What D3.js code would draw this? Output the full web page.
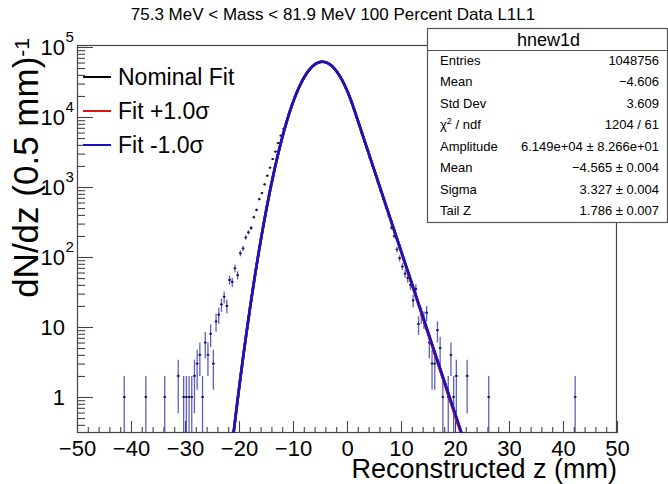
<!DOCTYPE html>
<html>
<head>
<meta charset="utf-8">
<script src="https://cdn.jsdelivr.net/npm/d3@7"></script>
<style>
  html, body { margin: 0; padding: 0; background: #fff; }
  svg { display: block; font-family: "Liberation Sans", Arial, Helvetica, sans-serif; }
</style>
</head>
<body>
<svg id="chart" width="668" height="484"></svg>
<script>
// Reconstructed z histogram, 0.5 mm bins; only non-empty bins are listed (bin centre, entries)
const binZ = [
  -41.25, -37.25, -33.75, -31.25, -30.25, -29.75, -29.25, -28.75, -28.25, -27.75,
  -27.25, -26.75, -26.25, -25.75, -25.25, -24.75, -24.25, -23.75, -23.25, -22.75,
  -22.25, -21.75, -21.25, -20.75, -20.25, -19.75, -19.25, -18.75, -18.25, -17.75,
  -17.25, -16.75, -16.25, -15.75, -15.25, -14.75, -14.25, -13.75, -13.25, -12.75,
  -12.25, -11.75, -11.25, -10.75,
  -10.25, -9.75, -9.25, -8.75, -8.25, -7.75, -7.25, -6.75, -6.25, -5.75,
  -5.25, -4.75, -4.25, -3.75, -3.25, -2.75, -2.25, -1.75, -1.25, -0.75,
  -0.25, 0.25, 0.75, 1.25, 1.75, 2.25, 2.75, 3.25, 3.75, 4.25,
  4.75, 5.25, 5.75, 6.25, 6.75, 7.25, 7.75,
  8.25, 8.75, 9.25, 9.75, 10.25, 10.75, 11.25, 11.75, 12.25, 12.75,
  13.25, 13.75, 14.25, 14.75, 15.25, 15.75, 16.25, 16.75, 17.25, 17.75,
  18.75, 19.25, 19.75, 20.25, 22.25, 26.25, 42.25
];
const binCounts = [
  1, 1, 1, 2, 1, 1, 1, 1, 2, 3,
  4, 1, 6, 4, 8, 3, 12, 15, 21, 27,
  20, 47, 44, 69, 55, 113, 133, 190, 225, 260,
  370, 470, 670, 820, 1090, 1450, 1890, 2510, 3200, 4230,
  5410, 6770, 8550, 10900,
  14600, 18500, 23000, 27900, 33200, 38700, 44100, 49300, 53800, 57500,
  60100, 61300, 61100, 59600, 56800, 53100, 48300, 43000, 37300, 31700,
  26300, 21400, 16900, 13100, 10000, 7700, 5850, 4480, 3400, 2600,
  1980, 1510, 1150, 880, 670, 505, 385,
  262, 200, 128, 96, 73, 58, 50, 40, 24, 35,
  11, 15, 13, 16, 6, 3, 3, 9, 5, 1,
  1, 4, 1, 2, 2, 1, 1
];
const binWidth = 0.5;

// Fit result: Gaussian core with an exponential tail on the high-z side
const fitParamNames  = ["Amplitude", "Mean", "Sigma", "Tail Z"];
const fitParamValues = [61490, -4.565, 3.327, 1.786];
const fitParamErrors = [82.66, 0.004, 0.004, 0.007];

// Fit variants: tail parameter shifted by the given number of standard errors
const fitLabels = ["Nominal Fit", "Fit +1.0\u03C3", "Fit -1.0\u03C3"];
const fitShifts = [0, 1, -1];

// Statistics box
const histName = "hnew1d";
const statNames = ["Entries", "Mean", "Std Dev"];
const statValues = ["1048756", "\u22124.606", "3.609"];
const chi2 = 1204, ndf = 61;

// Axis ticks
const xMajorTicks = [-50, -40, -30, -20, -10, 0, 10, 20, 30, 40, 50];
const yMajorTicks = [1, 10, 100, 1000, 10000, 100000];
const yTickBase = ["1", "10", "10", "10", "10", "10"];
const yTickExp  = ["", "", "2", "3", "4", "5"];

const titleText = "75.3 MeV < Mass < 81.9 MeV 100 Percent Data L1L1";
const xTitle = "Reconstructed z (mm)";
const yTitle = "dN/dz (0.5 mm)";
const yTitleExp = "-1";

// ---------------------------------------------------------------
const svg = d3.select("#chart");
const frame = { left: 77, right: 617, top: 45, bottom: 433 };
const x = d3.scaleLinear().domain([-50, 50]).range([frame.left, frame.right]);
const y = d3.scaleLog().domain([0.306, 1.068e5]).range([frame.bottom, frame.top]);
const axisColor = "#444";
const fitColors = ["#000000", "#e01010", "#1a12c6"];

svg.append("defs").append("clipPath").attr("id", "plotClip")
  .append("rect")
  .attr("x", frame.left).attr("y", frame.top)
  .attr("width", frame.right - frame.left).attr("height", frame.bottom - frame.top);

// Title
svg.append("text")
  .attr("x", 333).attr("y", 20)
  .attr("text-anchor", "middle")
  .style("font-size", "17px")
  .text(titleText);

// Frame
svg.append("rect")
  .attr("x", frame.left + 0.5).attr("y", frame.top + 0.5)
  .attr("width", frame.right - frame.left - 1).attr("height", frame.bottom - frame.top - 1)
  .attr("fill", "none").attr("stroke", axisColor).attr("stroke-width", 1.2);

// X axis: majors every 10, minors every 2
const fmtTick = v => (v < 0 ? "\u2212" + Math.abs(v) : String(v));
const xAxisG = svg.append("g").attr("transform", `translate(0,${frame.bottom})`)
  .call(d3.axisBottom(x).tickValues(xMajorTicks).tickSize(-12).tickPadding(7).tickFormat(fmtTick));
const xMinor = d3.range(-50, 50.001, 2).filter(v => Math.abs(v % 10) > 1e-9);
const xMinorG = svg.append("g").attr("transform", `translate(0,${frame.bottom})`)
  .call(d3.axisBottom(x).tickValues(xMinor).tickSize(-6).tickFormat(""));

// Y axis: decades with 2..9 subdivisions
const yMinor = [];
for (let e = -1; e <= 5; e++) {
  for (let k = 2; k <= 9; k++) {
    const v = k * Math.pow(10, e);
    if (v >= y.domain()[0] && v <= y.domain()[1]) yMinor.push(v);
  }
}
const yAxisG = svg.append("g").attr("transform", `translate(${frame.left},0)`)
  .call(d3.axisLeft(y).tickValues(yMajorTicks).tickSize(-16).tickFormat(""));
const yMinorG = svg.append("g").attr("transform", `translate(${frame.left},0)`)
  .call(d3.axisLeft(y).tickValues(yMinor).tickSize(-8).tickFormat(""));

[xAxisG, xMinorG, yAxisG, yMinorG].forEach(g => {
  g.select(".domain").remove();
  g.selectAll(".tick line").attr("stroke", axisColor).attr("stroke-width", 1.1);
  g.selectAll("text").attr("fill", "#000").style("font-size", "22px")
    .style("font-family", "\"Liberation Sans\", Arial, sans-serif");
});

// Y tick labels: mantissa right-aligned, exponent hanging to its right
const yLabels = svg.append("g");
const yLabelEdge = 65;
yMajorTicks.forEach((v, i) => {
  yLabels.append("text")
    .attr("x", yLabelEdge).attr("y", y(v)).attr("dy", "0.36em")
    .attr("text-anchor", "end")
    .style("font-size", "22px")
    .text(yTickBase[i]);
  if (yTickExp[i]) {
    yLabels.append("text")
      .attr("x", yLabelEdge + 0.5).attr("y", y(v) - 5)
      .style("font-size", "15px")
      .text(yTickExp[i]);
  }
});

// Axis titles
svg.append("text")
  .attr("x", frame.right).attr("y", 477.5)
  .attr("text-anchor", "end")
  .style("font-size", "27px")
  .text(xTitle);

const yt = svg.append("text")
  .attr("transform", "translate(37.5,38) rotate(-90)")
  .attr("text-anchor", "end")
  .style("font-size", "35px");
yt.append("tspan").text(yTitle);
yt.append("tspan").attr("dy", "-0.42em").style("font-size", "21px").text(yTitleExp);

// Data points with Poisson error bars
const plot = svg.append("g").attr("clip-path", "url(#plotClip)");
const bins = binZ.map((z, i) => ({ z, n: binCounts[i] }));
const yClamp = v => (v > y.domain()[0] ? y(v) : frame.bottom + 2);

const dataG = plot.append("g");
dataG.selectAll("line.err")
  .data(bins).join("line").attr("class", "err")
  .attr("x1", d => x(d.z)).attr("x2", d => x(d.z))
  .attr("y1", d => yClamp(d.n + Math.sqrt(d.n)))
  .attr("y2", d => yClamp(d.n - Math.sqrt(d.n)))
  .attr("stroke", "#3a38a6").attr("stroke-opacity", 0.8).attr("stroke-width", 1.3);
dataG.selectAll("line.xerr")
  .data(bins).join("line").attr("class", "xerr")
  .attr("x1", d => x(d.z - binWidth / 2)).attr("x2", d => x(d.z + binWidth / 2))
  .attr("y1", d => y(d.n)).attr("y2", d => y(d.n))
  .attr("stroke", "#1c1a7a").attr("stroke-width", 1.2);
dataG.selectAll("circle")
  .data(bins).join("circle")
  .attr("cx", d => x(d.z)).attr("cy", d => y(d.n)).attr("r", 1.1)
  .attr("fill", "#14126a");

// Fit curves
const [amp, mu, sig, tail] = fitParamValues;
function fitValue(z, tailZ) {
  const t = (z - mu) / sig;
  if (t <= tailZ) return amp * Math.exp(-0.5 * t * t);
  return amp * Math.exp(0.5 * tailZ * tailZ - tailZ * t);
}
const zs = d3.range(-50, 50.0001, 0.05);
const floor = y.domain()[0] * 0.3;
const line = d3.line().x(d => x(d[0])).y(d => y(Math.max(d[1], floor)));
fitShifts.forEach((s, i) => {
  const tz = tail + s * fitParamErrors[3];
  plot.append("path")
    .datum(zs.map(z => [z, fitValue(z, tz)]))
    .attr("d", line)
    .attr("fill", "none")
    .attr("stroke", fitColors[i])
    .attr("stroke-width", 2.6)
    .attr("stroke-linejoin", "round");
});

// Legend
const legendY = [77, 111, 145];
fitLabels.forEach((lab, i) => {
  svg.append("line")
    .attr("x1", 83).attr("x2", 111).attr("y1", legendY[i]).attr("y2", legendY[i])
    .attr("stroke", fitColors[i]).attr("stroke-width", 2);
  svg.append("text")
    .attr("x", 118).attr("y", legendY[i]).attr("dy", "0.36em")
    .style("font-size", "23px")
    .text(lab);
});

// Statistics box
const box = { x: 427.5, y: 28.5, w: 240, h: 194 };
svg.append("rect")
  .attr("x", box.x).attr("y", box.y).attr("width", box.w).attr("height", box.h)
  .attr("fill", "#fff").attr("stroke", "#555").attr("stroke-width", 1.2);
svg.append("line")
  .attr("x1", box.x).attr("x2", box.x + box.w).attr("y1", 50.5).attr("y2", 50.5)
  .attr("stroke", "#555").attr("stroke-width", 1.2);
svg.append("text")
  .attr("x", box.x + box.w / 2 + 1).attr("y", 46)
  .attr("text-anchor", "middle")
  .style("font-size", "18px")
  .text(histName);

const signed = v => (v < 0 ? "\u2212" : "") + Math.abs(v).toFixed(3);
const expo = v => v.toExponential(3).replace(/e([+-])(\d)$/, "e$10$2");
const rows = [];
statNames.forEach((n, i) => rows.push({ label: n, value: statValues[i] }));
rows.push({ label: "chi2", value: `${chi2} / ${ndf}` });
fitParamNames.forEach((n, i) => {
  const v = i === 0 ? `${expo(fitParamValues[i])} \u00B1 ${expo(fitParamErrors[i])}`
                    : `${signed(fitParamValues[i])} \u00B1 ${fitParamErrors[i].toFixed(3)}`;
  rows.push({ label: n, value: v });
});
rows.forEach((r, i) => {
  const by = 64.5 + i * 21.5;
  const lt = svg.append("text").attr("x", 440).attr("y", by).style("font-size", "13px");
  if (r.label === "chi2") {
    lt.append("tspan").text("\u03C7");
    lt.append("tspan").attr("dy", "-5").style("font-size", "9px").text("2");
    lt.append("tspan").attr("dy", "5").text(" / ndf");
  } else {
    lt.text(r.label);
  }
  svg.append("text").attr("x", 659).attr("y", by)
    .attr("text-anchor", "end").style("font-size", "13px")
    .text(r.value);
});
</script>
</body>
</html>
